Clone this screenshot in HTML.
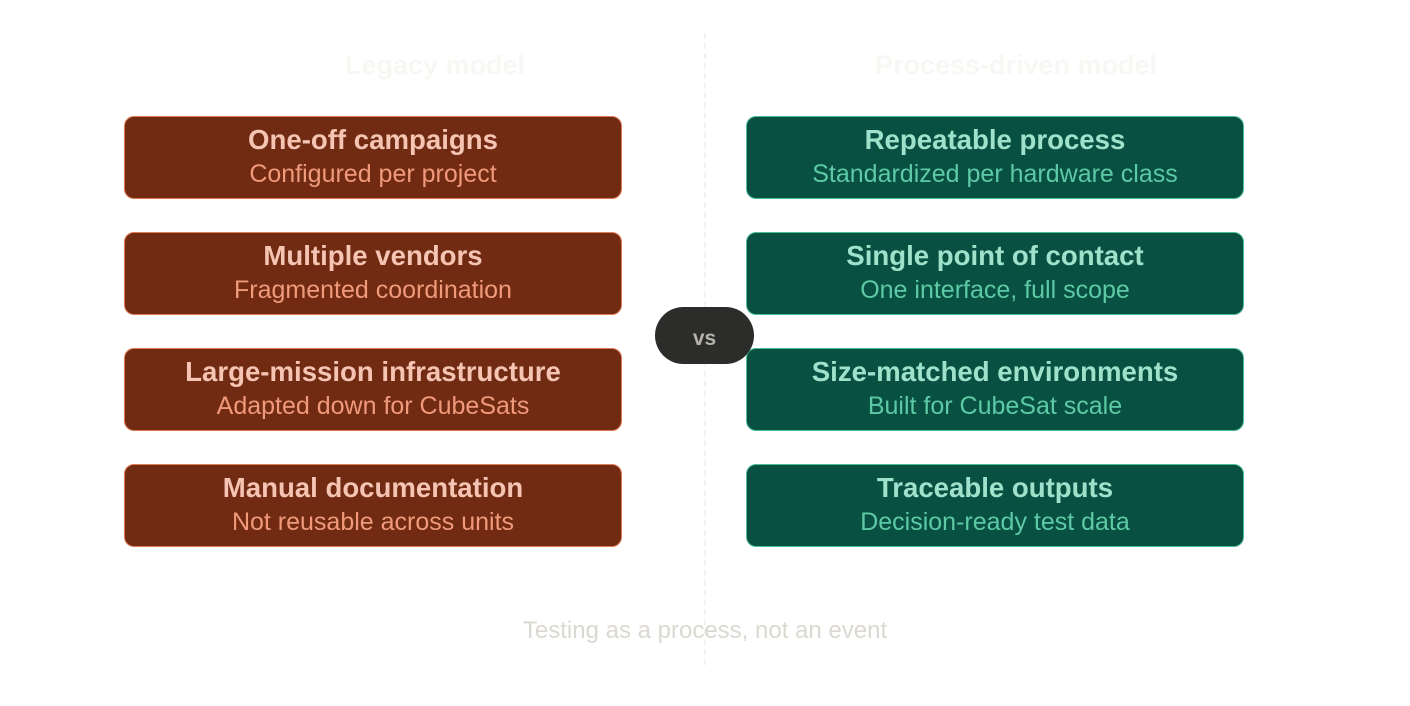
<!DOCTYPE html>
<html>
<head>
<meta charset="utf-8">
<style>
  html,body{margin:0;padding:0;background:#ffffff;}
  body{width:1410px;height:706px;position:relative;overflow:hidden;font-family:"Liberation Sans",Arial,sans-serif;}
  .dash{position:absolute;left:704px;top:33px;width:0;height:632px;border-left:2px dashed #f3f2ee;}
  .hdr{position:absolute;top:48px;height:34px;line-height:34px;font-size:27px;font-weight:bold;color:#f8f7f3;text-align:center;white-space:nowrap;}
  .box{position:absolute;width:498px;height:83px;box-sizing:border-box;border-radius:10px;}
  .red{left:124px;background:#712B13;border:1px solid #E07B58;}
  .grn{left:746px;background:#085041;border:1px solid #4FBF98;}
  .t{position:absolute;left:0;right:0;top:5.5px;height:34px;line-height:34px;font-size:27.6px;font-weight:bold;text-align:center;white-space:nowrap;}
  .s{position:absolute;left:0;right:0;top:42px;height:30px;line-height:30px;font-size:25px;text-align:center;white-space:nowrap;}
  .red .t{color:#F5C4B3;}
  .red .s{color:#F0997B;}
  .grn .t{color:#9FE1CB;}
  .grn .s{color:#5DCAA5;}
  .vs{position:absolute;left:655px;top:307px;width:99px;height:57px;border-radius:29px;background:#2C2C2A;}
  .vs span{position:absolute;left:0;right:0;top:19px;height:26px;line-height:26px;text-align:center;color:#B4B2A9;font-size:21px;font-weight:bold;}
  .foot{position:absolute;left:0;width:1410px;text-align:center;top:616px;height:30px;line-height:30px;font-size:24px;color:#DAD8D0;white-space:nowrap;}
</style>
</head>
<body>
  <div class="dash"></div>

  <div class="hdr" style="left:285px;width:300px;">Legacy model</div>
  <div class="hdr" style="left:816px;width:400px;">Process-driven model</div>

  <div class="box red" style="top:116px;"><div class="t">One-off campaigns</div><div class="s">Configured per project</div></div>
  <div class="box red" style="top:232px;"><div class="t">Multiple vendors</div><div class="s">Fragmented coordination</div></div>
  <div class="box red" style="top:348px;"><div class="t">Large-mission infrastructure</div><div class="s">Adapted down for CubeSats</div></div>
  <div class="box red" style="top:464px;"><div class="t">Manual documentation</div><div class="s">Not reusable across units</div></div>

  <div class="box grn" style="top:116px;"><div class="t">Repeatable process</div><div class="s">Standardized per hardware class</div></div>
  <div class="box grn" style="top:232px;"><div class="t">Single point of contact</div><div class="s">One interface, full scope</div></div>
  <div class="box grn" style="top:348px;"><div class="t">Size-matched environments</div><div class="s">Built for CubeSat scale</div></div>
  <div class="box grn" style="top:464px;"><div class="t">Traceable outputs</div><div class="s">Decision-ready test data</div></div>

  <div class="vs"><span>vs</span></div>

  <div class="foot">Testing as a process, not an event</div>
</body>
</html>
